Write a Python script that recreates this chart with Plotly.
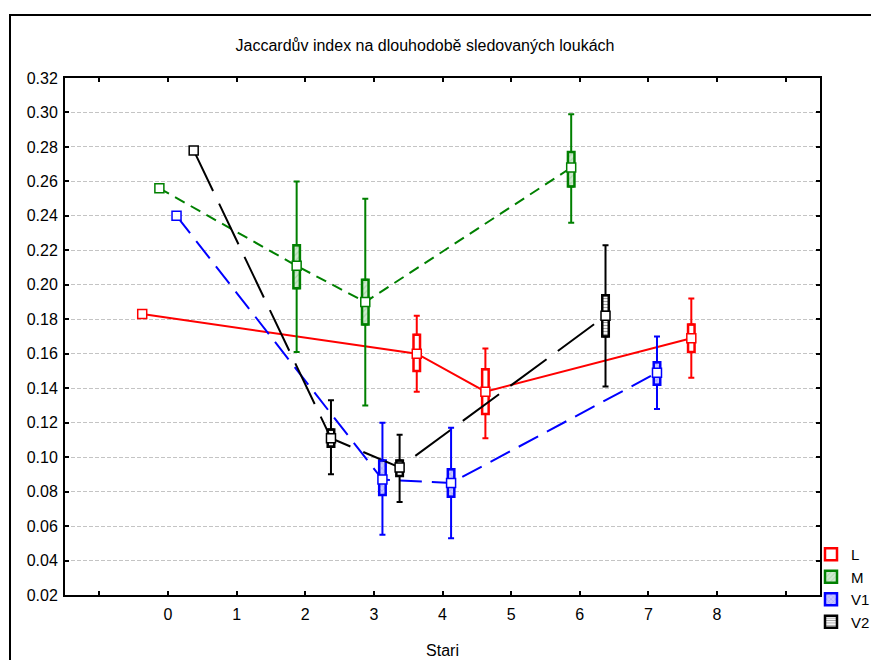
import plotly.graph_objects as go

# ---------------- data ----------------
chart_title = "Jaccardův index na dlouhodobě sledovaných loukách"
x_title = "Stari"
series_names = ["L", "M", "V1", "V2"]

L_cats = [0, 4, 5, 8]
L_mean = [0.183, 0.160, 0.138, 0.169]
L_box_lo = [None, 0.150, 0.125, 0.161]
L_box_hi = [None, 0.171, 0.151, 0.177]
L_wh_lo = [None, 0.138, 0.111, 0.146]
L_wh_hi = [None, 0.182, 0.163, 0.192]

M_cats = [0, 2, 3, 6]
M_mean = [0.256, 0.211, 0.190, 0.268]
M_box_lo = [None, 0.198, 0.177, 0.257]
M_box_hi = [None, 0.223, 0.203, 0.277]
M_wh_lo = [None, 0.161, 0.130, 0.236]
M_wh_hi = [None, 0.260, 0.250, 0.299]

V1_cats = [0, 3, 4, 7]
V1_mean = [0.240, 0.087, 0.085, 0.149]
V1_box_lo = [None, 0.078, 0.077, 0.142]
V1_box_hi = [None, 0.098, 0.093, 0.155]
V1_wh_lo = [None, 0.055, 0.053, 0.128]
V1_wh_hi = [None, 0.120, 0.117, 0.170]

V2_cats = [0, 2, 3, 6]
V2_mean = [0.278, 0.111, 0.094, 0.182]
V2_box_lo = [None, 0.106, 0.089, 0.170]
V2_box_hi = [None, 0.116, 0.098, 0.194]
V2_wh_lo = [None, 0.090, 0.074, 0.141]
V2_wh_hi = [None, 0.133, 0.113, 0.223]

x_tick_vals = list(range(-1, 10))
x_tick_text = [""] + [str(i) for i in range(0, 9)] + [""]
y_tick_vals = [round(0.02 + 0.02 * i, 2) for i in range(16)]
y_tick_text = ["%.2f" % v for v in y_tick_vals]

# ---------------- styles ----------------
FONT = "Liberation Sans, Arial, sans-serif"
W, H = 871, 652          # page has an 8px body margin; avoid scrollbars
ML, MT, MR, MB = 57, 70, 59, 65
PW, PH = W - ML - MR, H - MT - MB

styles = {
    "L":  dict(color="#ff0000", offset=-0.375, dash="solid",
               fill="#ffffff", pattern=dict(shape="")),
    "M":  dict(color="#008000", offset=-0.125, dash="11px,7px",
               fill="#cfe9cf", pattern=dict(shape="/", fgcolor="#8fcc8f", size=4, solidity=0.3)),
    "V1": dict(color="#0000ff", offset=0.125, dash="22px,10px",
               fill="#c8c8ff", pattern=dict(shape="x", fgcolor="#7070ff", size=4, solidity=0.3)),
    "V2": dict(color="#000000", offset=0.375, dash="45px,14px",
               fill="#ffffff", pattern=dict(shape="-", fgcolor="#404040", size=3, solidity=0.4)),
}

data = {
    "L": (L_cats, L_mean, L_box_lo, L_box_hi, L_wh_lo, L_wh_hi),
    "M": (M_cats, M_mean, M_box_lo, M_box_hi, M_wh_lo, M_wh_hi),
    "V1": (V1_cats, V1_mean, V1_box_lo, V1_box_hi, V1_wh_lo, V1_wh_hi),
    "V2": (V2_cats, V2_mean, V2_box_lo, V2_box_hi, V2_wh_lo, V2_wh_hi),
}

fig = go.Figure()

# connecting lines first
for name in series_names:
    cats, mean, blo, bhi, wlo, whi = data[name]
    st = styles[name]
    xs = [c + st["offset"] for c in cats]
    fig.add_trace(go.Scatter(x=xs, y=mean, mode="lines",
                             line=dict(color=st["color"], width=2, dash=st["dash"]),
                             showlegend=False, hoverinfo="skip"))

# boxes (bars with base)
for name in series_names:
    cats, mean, blo, bhi, wlo, whi = data[name]
    st = styles[name]
    idx = [i for i in range(len(cats)) if blo[i] is not None]
    xs = [cats[i] + st["offset"] for i in idx]
    fig.add_trace(go.Bar(
        x=xs, base=[blo[i] for i in idx], y=[bhi[i] - blo[i] for i in idx],
        width=0.095, name=name,
        marker=dict(color=st["fill"], pattern=st["pattern"],
                    line=dict(color=st["color"], width=2.5)),
        showlegend=True,
    ))

# whiskers
for name in series_names:
    cats, mean, blo, bhi, wlo, whi = data[name]
    st = styles[name]
    idx = [i for i in range(len(cats)) if blo[i] is not None]
    xs = [cats[i] + st["offset"] for i in idx]
    fig.add_trace(go.Scatter(
        x=xs, y=[bhi[i] for i in idx], mode="markers",
        marker=dict(size=1, color="rgba(0,0,0,0)"),
        error_y=dict(type="data", symmetric=False,
                     array=[whi[i] - bhi[i] for i in idx],
                     arrayminus=[0 for i in idx],
                     color=st["color"], thickness=2, width=3),
        showlegend=False, hoverinfo="skip"))
    fig.add_trace(go.Scatter(
        x=xs, y=[blo[i] for i in idx], mode="markers",
        marker=dict(size=1, color="rgba(0,0,0,0)"),
        error_y=dict(type="data", symmetric=False,
                     array=[0 for i in idx],
                     arrayminus=[blo[i] - wlo[i] for i in idx],
                     color=st["color"], thickness=2, width=3),
        showlegend=False, hoverinfo="skip"))

# mean markers
for name in series_names:
    cats, mean, blo, bhi, wlo, whi = data[name]
    st = styles[name]
    xs = [c + st["offset"] for c in cats]
    fig.add_trace(go.Scatter(
        x=xs, y=mean, mode="markers",
        marker=dict(symbol="square", size=9, color="white",
                    line=dict(color=st["color"], width=1.5)),
        showlegend=False, name=name))

fig.update_layout(
    width=W, height=H,
    margin=dict(l=ML, r=MR, t=MT, b=MB, autoexpand=False),
    paper_bgcolor="white", plot_bgcolor="white",
    barmode="overlay",
    font=dict(family=FONT, size=16, color="black"),
    title=dict(text=chart_title, x=417 / W, xref="container", xanchor="center",
               y=1 - 37 / H, yref="container", yanchor="middle",
               font=dict(family=FONT, size=16, color="black")),
    showlegend=True,
    legend=dict(x=(803 - ML) / PW, y=(PH - 530 + MT) / PH, xanchor="left", yanchor="top",
                font=dict(family=FONT, size=15, color="black"),
                bgcolor="rgba(0,0,0,0)", tracegroupgap=0, itemwidth=30,
                traceorder="normal"),
    xaxis=dict(range=[-1.5, 9.5], tickmode="array", tickvals=x_tick_vals,
               ticktext=x_tick_text, ticks="inside", ticklen=4, tickwidth=1.5,
               tickcolor="black", showline=True, linewidth=2, linecolor="black",
               mirror="ticks", showgrid=False, zeroline=False,
               tickfont=dict(family=FONT, size=16, color="black"),
               ticklabelstandoff=4,
               title=dict(text=x_title, standoff=23,
                          font=dict(family=FONT, size=16, color="black"))),
    yaxis=dict(range=[0.02, 0.32], tickmode="array", tickvals=y_tick_vals,
               ticktext=y_tick_text, ticks="inside", ticklen=4, tickwidth=1.5,
               tickcolor="black", showline=True, linewidth=2, linecolor="black",
               mirror="ticks", showgrid=True, gridcolor="#c4c4c4", gridwidth=1,
               griddash="4px,2px", zeroline=False, ticklabelstandoff=2,
               tickfont=dict(family=FONT, size=16, color="black")),
    shapes=[dict(type="rect", xref="paper", yref="paper",
                 x0=(2 - ML) / PW, x1=1.2, y0=-0.3, y1=(PH + MT - 7) / PH,
                 line=dict(color="black", width=2), fillcolor="rgba(0,0,0,0)",
                 layer="above")],
)

fig.write_html("out.html")
